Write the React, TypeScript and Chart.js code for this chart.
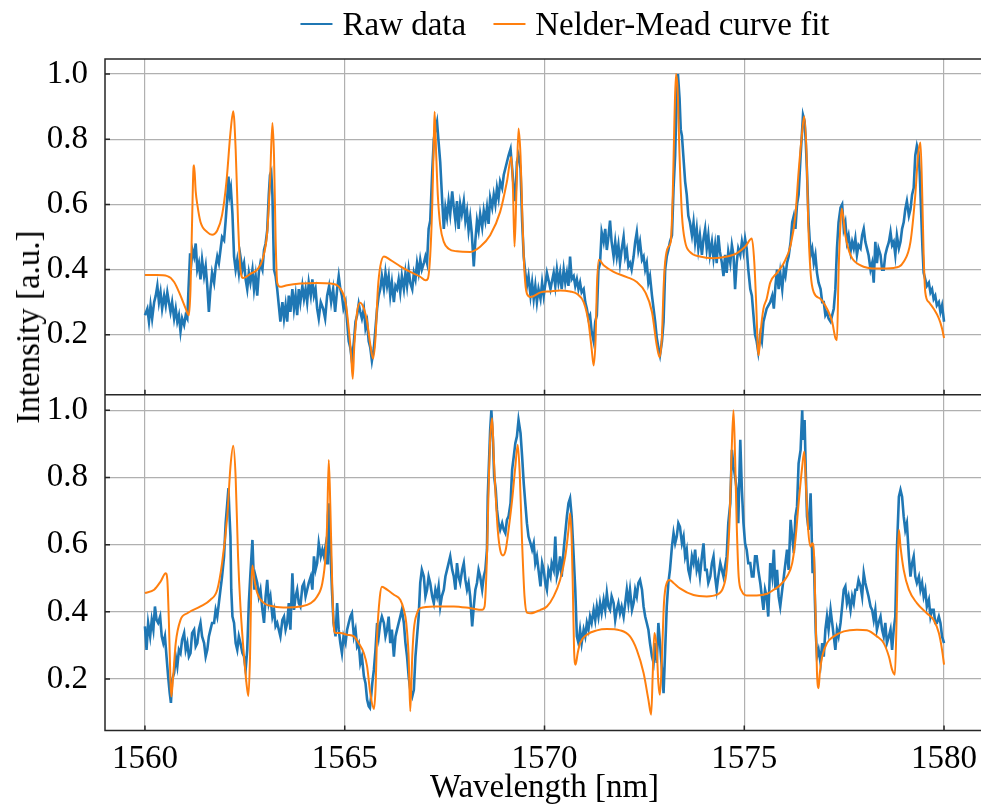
import React, { useEffect, useRef } from "react";
import { Chart, registerables } from "chart.js";

Chart.register(...registerables);

const X_TICKS = [1560, 1565, 1570, 1575, 1580];
const Y_TICKS = [0.2, 0.4, 0.6, 0.8, 1.0];

const TOP_RAW: [number, number][] = [
[1560.00,0.26],[1560.06,0.28],[1560.10,0.24],[1560.14,0.29],[1560.18,0.25],[1560.23,0.30],[1560.27,0.32],[1560.31,0.35],[1560.35,0.30],[1560.39,0.33],[1560.43,0.28],[1560.48,0.32],[1560.52,0.29],[1560.56,0.33],[1560.60,0.30],[1560.64,0.27],[1560.68,0.30],[1560.73,0.25],[1560.77,0.28],[1560.81,0.24],[1560.85,0.26],[1560.89,0.21],[1560.93,0.25],[1560.98,0.23],[1561.02,0.26],[1561.06,0.25],[1561.09,0.34],[1561.13,0.45],[1561.16,0.42],[1561.19,0.46],[1561.23,0.44],[1561.27,0.48],[1561.31,0.40],[1561.35,0.42],[1561.39,0.37],[1561.43,0.43],[1561.48,0.38],[1561.52,0.41],[1561.56,0.35],[1561.60,0.27],[1561.64,0.34],[1561.68,0.39],[1561.73,0.36],[1561.77,0.41],[1561.81,0.44],[1561.85,0.42],[1561.89,0.46],[1561.93,0.50],[1561.98,0.49],[1562.02,0.55],[1562.06,0.62],[1562.09,0.685],[1562.12,0.63],[1562.15,0.65],[1562.19,0.57],[1562.23,0.44],[1562.27,0.40],[1562.31,0.43],[1562.35,0.39],[1562.39,0.44],[1562.44,0.40],[1562.48,0.42],[1562.52,0.37],[1562.56,0.34],[1562.60,0.39],[1562.64,0.36],[1562.69,0.40],[1562.73,0.34],[1562.77,0.38],[1562.81,0.32],[1562.85,0.39],[1562.89,0.42],[1562.94,0.40],[1562.98,0.46],[1563.02,0.48],[1563.06,0.52],[1563.10,0.63],[1563.13,0.69],[1563.16,0.70],[1563.19,0.63],[1563.23,0.40],[1563.27,0.38],[1563.31,0.34],[1563.35,0.29],[1563.39,0.24],[1563.44,0.30],[1563.48,0.25],[1563.52,0.29],[1563.56,0.24],[1563.60,0.32],[1563.64,0.27],[1563.69,0.34],[1563.73,0.28],[1563.77,0.32],[1563.81,0.26],[1563.85,0.34],[1563.89,0.30],[1563.94,0.35],[1563.98,0.31],[1564.02,0.34],[1564.06,0.30],[1564.10,0.36],[1564.15,0.32],[1564.19,0.37],[1564.23,0.32],[1564.27,0.34],[1564.31,0.28],[1564.35,0.25],[1564.40,0.30],
[1564.46,0.28],[1564.51,0.25],[1564.56,0.32],[1564.61,0.35],[1564.66,0.30],[1564.71,0.34],[1564.76,0.27],[1564.81,0.34],[1564.85,0.38],[1564.89,0.34],[1564.93,0.32],[1564.97,0.28],[1565.02,0.30],[1565.06,0.24],[1565.10,0.18],[1565.14,0.16],[1565.18,0.12],[1565.23,0.18],[1565.27,0.24],[1565.31,0.26],[1565.35,0.295],[1565.39,0.27],[1565.43,0.25],[1565.48,0.28],[1565.52,0.22],[1565.56,0.24],[1565.60,0.18],[1565.64,0.16],[1565.68,0.12],[1565.73,0.16],[1565.77,0.22],[1565.81,0.28],[1565.85,0.32],[1565.89,0.34],[1565.93,0.38],[1565.98,0.34],[1566.02,0.39],[1566.06,0.35],[1566.10,0.38],[1566.14,0.32],[1566.18,0.36],[1566.23,0.30],[1566.27,0.35],[1566.31,0.34],[1566.35,0.37],[1566.39,0.33],[1566.43,0.38],[1566.48,0.34],[1566.52,0.39],[1566.56,0.35],[1566.60,0.40],[1566.64,0.36],[1566.69,0.34],[1566.73,0.39],[1566.77,0.37],[1566.81,0.42],[1566.85,0.39],[1566.89,0.43],[1566.93,0.40],[1566.98,0.42],[1567.02,0.44],[1567.06,0.42],[1567.10,0.525],[1567.14,0.55],[1567.19,0.70],[1567.23,0.80],[1567.27,0.83],[1567.31,0.853],[1567.35,0.79],[1567.39,0.73],[1567.44,0.61],[1567.48,0.525],[1567.52,0.59],[1567.56,0.56],[1567.60,0.61],[1567.64,0.57],[1567.69,0.64],[1567.73,0.59],[1567.77,0.55],[1567.81,0.61],[1567.85,0.525],[1567.89,0.60],[1567.93,0.57],[1567.98,0.61],[1568.02,0.55],[1568.06,0.58],[1568.10,0.52],[1568.14,0.56],[1568.18,0.51],[1568.23,0.41],[1568.27,0.49],[1568.31,0.55],[1568.35,0.52],[1568.39,0.57],[1568.44,0.53],[1568.48,0.58],[1568.52,0.55],[1568.56,0.59],[1568.60,0.54],[1568.64,0.62],[1568.69,0.59],[1568.73,0.63],[1568.77,0.60],[1568.81,0.65],[1568.85,0.62],[1568.89,0.67],[1568.94,0.65],[1568.98,0.69],[1569.02,0.71],[1569.06,0.73],[1569.10,0.75],[1569.15,0.77],[1569.19,0.71],[1569.23,0.65],[1569.27,0.61],[1569.31,0.73],[1569.35,0.75],[1569.40,0.71],[1569.44,0.55],[1569.48,0.44],[1569.52,0.39],[1569.56,0.35],[1569.60,0.38],[1569.65,0.32],[1569.69,0.36],[1569.73,0.31],[1569.77,0.35],[1569.81,0.30],[1569.85,0.34],[1569.90,0.31],[1569.94,0.36],[1569.98,0.32],[1570.06,0.39],[1570.15,0.34],
[1570.18,0.36],[1570.23,0.39],[1570.27,0.35],[1570.31,0.40],[1570.35,0.36],[1570.39,0.39],[1570.43,0.34],[1570.48,0.40],[1570.52,0.36],[1570.56,0.39],[1570.60,0.35],[1570.64,0.44],[1570.68,0.37],[1570.73,0.38],[1570.77,0.35],[1570.81,0.37],[1570.85,0.34],[1570.89,0.36],[1570.93,0.33],[1570.98,0.34],[1571.02,0.30],[1571.06,0.28],[1571.10,0.25],[1571.14,0.26],[1571.18,0.21],[1571.23,0.18],[1571.27,0.24],[1571.31,0.26],[1571.35,0.40],[1571.39,0.42],[1571.43,0.515],[1571.48,0.485],[1571.52,0.525],[1571.56,0.46],[1571.60,0.50],[1571.64,0.55],[1571.68,0.485],[1571.73,0.44],[1571.77,0.485],[1571.81,0.44],[1571.85,0.475],[1571.89,0.42],[1571.93,0.46],[1571.98,0.50],[1572.02,0.44],[1572.06,0.46],[1572.10,0.41],[1572.14,0.42],[1572.18,0.40],[1572.23,0.44],[1572.27,0.485],[1572.31,0.515],[1572.35,0.46],[1572.39,0.485],[1572.44,0.43],[1572.48,0.44],[1572.52,0.40],[1572.56,0.42],[1572.60,0.36],[1572.64,0.38],[1572.69,0.32],[1572.73,0.28],[1572.77,0.24],[1572.81,0.19],[1572.85,0.16],[1572.89,0.137],[1572.94,0.18],[1572.98,0.24],[1573.02,0.40],[1573.06,0.44],[1573.10,0.46],[1573.14,0.485],[1573.19,0.505],[1573.23,0.65],[1573.27,0.75],[1573.31,0.94],[1573.34,1.0],[1573.38,0.925],[1573.41,0.83],[1573.44,0.81],[1573.48,0.74],[1573.52,0.67],[1573.56,0.63],[1573.60,0.565],[1573.64,0.545],[1573.69,0.505],[1573.73,0.545],[1573.77,0.485],[1573.81,0.525],[1573.85,0.465],[1573.89,0.505],[1573.94,0.445],[1573.98,0.495],[1574.02,0.525],[1574.06,0.465],[1574.10,0.505],[1574.14,0.445],[1574.19,0.485],[1574.23,0.435],[1574.27,0.475],[1574.31,0.42],[1574.35,0.505],[1574.39,0.455],[1574.44,0.42],[1574.48,0.38],[1574.52,0.445],[1574.56,0.39],[1574.60,0.455],[1574.65,0.42],[1574.69,0.475],[1574.73,0.445],[1574.77,0.34],[1574.81,0.42],[1574.85,0.465],[1574.90,0.445],[1574.94,0.485],[1574.98,0.455],[1575.02,0.495],[1575.06,0.465],[1575.10,0.40],[1575.15,0.34],[1575.19,0.32],[1575.23,0.26],[1575.27,0.20],[1575.31,0.18],[1575.35,0.147],[1575.40,0.20],[1575.44,0.18],[1575.48,0.24],[1575.56,0.28],[1575.65,0.30],
[1575.70,0.32],[1575.74,0.28],[1575.78,0.35],[1575.82,0.40],[1575.86,0.34],[1575.90,0.39],[1575.95,0.34],[1575.99,0.40],[1576.03,0.38],[1576.07,0.42],[1576.11,0.44],[1576.16,0.485],[1576.20,0.545],[1576.24,0.565],[1576.28,0.525],[1576.32,0.60],[1576.36,0.63],[1576.41,0.75],[1576.44,0.81],[1576.47,0.874],[1576.51,0.855],[1576.54,0.79],[1576.57,0.70],[1576.61,0.545],[1576.66,0.445],[1576.70,0.465],[1576.74,0.42],[1576.78,0.445],[1576.82,0.39],[1576.86,0.36],[1576.91,0.34],[1576.95,0.30],[1576.99,0.30],[1577.03,0.26],[1577.07,0.27],[1577.11,0.25],[1577.16,0.24],[1577.20,0.26],[1577.24,0.28],[1577.28,0.34],[1577.32,0.465],[1577.36,0.545],[1577.41,0.59],[1577.45,0.60],[1577.49,0.525],[1577.53,0.545],[1577.57,0.485],[1577.61,0.505],[1577.66,0.455],[1577.70,0.485],[1577.74,0.465],[1577.78,0.495],[1577.82,0.445],[1577.86,0.475],[1577.91,0.465],[1577.95,0.505],[1577.99,0.525],[1578.03,0.485],[1578.07,0.465],[1578.11,0.445],[1578.16,0.40],[1578.20,0.42],[1578.24,0.36],[1578.28,0.485],[1578.32,0.42],[1578.36,0.465],[1578.41,0.445],[1578.45,0.40],[1578.49,0.40],[1578.53,0.445],[1578.57,0.465],[1578.62,0.485],[1578.66,0.515],[1578.70,0.475],[1578.74,0.485],[1578.78,0.445],[1578.82,0.505],[1578.87,0.465],[1578.91,0.485],[1578.95,0.525],[1578.99,0.545],[1579.03,0.585],[1579.07,0.61],[1579.12,0.565],[1579.16,0.585],[1579.20,0.63],[1579.24,0.65],[1579.28,0.75],[1579.32,0.78],[1579.36,0.76],[1579.39,0.70],[1579.42,0.60],[1579.46,0.465],[1579.49,0.39],[1579.53,0.37],[1579.57,0.35],[1579.62,0.36],[1579.66,0.33],[1579.70,0.34],[1579.74,0.31],[1579.78,0.32],[1579.82,0.29],[1579.87,0.30],[1579.91,0.27],[1579.95,0.29],[1580.00,0.24]
];

const TOP_FIT: [number, number][] = [
[1560.00,0.383],[1560.30,0.383],[1560.56,0.380],[1560.73,0.362],[1560.89,0.32],[1561.02,0.28],[1561.10,0.26],[1561.14,0.34],[1561.18,0.55],[1561.21,0.70],[1561.23,0.72],[1561.27,0.64],[1561.31,0.60],[1561.39,0.546],[1561.56,0.515],[1561.68,0.507],[1561.81,0.52],[1561.93,0.567],[1562.04,0.67],[1562.14,0.82],[1562.21,0.886],[1562.27,0.77],[1562.33,0.546],[1562.39,0.40],[1562.46,0.374],[1562.64,0.387],[1562.81,0.40],[1562.94,0.43],[1563.06,0.515],[1563.13,0.67],[1563.19,0.85],[1563.23,0.75],[1563.27,0.495],[1563.31,0.36],[1563.38,0.347],[1563.56,0.352],[1563.89,0.357],[1564.31,0.359],[1564.65,0.357],[1564.89,0.342],[1565.02,0.30],[1565.10,0.22],[1565.16,0.137],[1565.20,0.065],[1565.24,0.167],[1565.31,0.27],[1565.39,0.298],[1565.48,0.28],[1565.56,0.24],[1565.64,0.17],[1565.71,0.127],[1565.77,0.19],[1565.83,0.342],[1565.89,0.41],[1565.98,0.44],[1566.14,0.43],[1566.39,0.41],[1566.64,0.393],[1566.89,0.378],[1567.02,0.367],[1567.08,0.372],[1567.14,0.444],[1567.19,0.597],[1567.23,0.80],[1567.25,0.884],[1567.29,0.75],[1567.33,0.628],[1567.39,0.536],[1567.48,0.485],[1567.60,0.464],[1567.81,0.456],[1568.14,0.454],[1568.39,0.47],[1568.64,0.505],[1568.89,0.577],[1569.06,0.67],[1569.17,0.746],[1569.21,0.65],[1569.25,0.47],[1569.30,0.65],[1569.35,0.833],[1569.40,0.75],[1569.45,0.546],[1569.50,0.39],[1569.56,0.326],[1569.65,0.316],[1569.90,0.33],[1570.14,0.333],[1570.39,0.336],[1570.64,0.333],[1570.81,0.326],[1570.98,0.30],[1571.10,0.24],[1571.18,0.157],[1571.23,0.106],[1571.28,0.19],[1571.31,0.342],[1571.36,0.43],[1571.48,0.413],[1571.73,0.393],[1572.06,0.377],[1572.31,0.362],[1572.52,0.331],[1572.69,0.27],[1572.81,0.167],[1572.88,0.131],[1572.94,0.198],[1572.98,0.342],[1573.02,0.424],[1573.10,0.47],[1573.16,0.485],[1573.21,0.63],[1573.25,0.85],[1573.29,1.0],[1573.33,0.956],[1573.38,0.75],[1573.44,0.567],[1573.52,0.485],[1573.64,0.454],[1573.89,0.44],[1574.23,0.435],[1574.56,0.44],[1574.81,0.45],[1575.02,0.47],[1575.19,0.495],[1575.25,0.424],[1575.30,0.29],[1575.34,0.157],[1575.36,0.137],[1575.41,0.21],[1575.48,0.28],[1575.56,0.31],[1575.65,0.36],[1575.82,0.39],[1575.99,0.42],[1576.16,0.475],[1576.28,0.567],[1576.36,0.70],[1576.45,0.823],[1576.50,0.87],[1576.56,0.75],[1576.60,0.546],[1576.66,0.39],[1576.74,0.33],[1576.91,0.31],[1577.07,0.28],[1577.20,0.24],[1577.28,0.19],[1577.32,0.183],[1577.36,0.39],[1577.41,0.546],[1577.44,0.587],[1577.53,0.505],[1577.66,0.444],[1577.91,0.413],[1578.32,0.403],[1578.74,0.405],[1578.99,0.424],[1579.16,0.485],[1579.28,0.628],[1579.35,0.75],[1579.41,0.79],[1579.45,0.65],[1579.49,0.444],[1579.53,0.331],[1579.62,0.30],[1579.74,0.28],[1579.87,0.25],[1579.95,0.219],[1580.00,0.19]
];

const BOT_RAW: [number, number][] = [
[1560.00,0.357],[1560.04,0.287],[1560.08,0.367],[1560.13,0.327],[1560.17,0.376],[1560.21,0.347],[1560.25,0.416],[1560.29,0.376],[1560.33,0.367],[1560.38,0.386],[1560.42,0.327],[1560.46,0.307],[1560.50,0.327],[1560.54,0.267],[1560.58,0.208],[1560.62,0.158],[1560.65,0.129],[1560.68,0.198],[1560.73,0.218],[1560.77,0.267],[1560.81,0.238],[1560.85,0.287],[1560.89,0.277],[1560.93,0.317],[1560.98,0.337],[1561.02,0.287],[1561.06,0.307],[1561.10,0.267],[1561.14,0.277],[1561.18,0.337],[1561.23,0.347],[1561.27,0.297],[1561.31,0.307],[1561.35,0.347],[1561.39,0.367],[1561.43,0.327],[1561.48,0.307],[1561.52,0.267],[1561.56,0.287],[1561.60,0.327],[1561.64,0.347],[1561.68,0.367],[1561.73,0.367],[1561.77,0.406],[1561.81,0.386],[1561.85,0.426],[1561.89,0.466],[1561.93,0.505],[1561.98,0.565],[1562.02,0.664],[1562.06,0.723],[1562.09,0.768],[1562.11,0.704],[1562.14,0.624],[1562.16,0.466],[1562.19,0.386],[1562.23,0.367],[1562.27,0.307],[1562.31,0.287],[1562.35,0.327],[1562.39,0.307],[1562.44,0.277],[1562.48,0.267],[1562.52,0.228],[1562.56,0.287],[1562.60,0.426],[1562.64,0.515],[1562.69,0.614],[1562.71,0.545],[1562.74,0.466],[1562.77,0.505],[1562.81,0.486],[1562.85,0.446],[1562.89,0.466],[1562.94,0.406],[1562.98,0.367],[1563.02,0.446],[1563.06,0.495],[1563.10,0.426],[1563.14,0.446],[1563.19,0.386],[1563.23,0.406],[1563.27,0.357],[1563.31,0.367],[1563.35,0.347],[1563.39,0.327],[1563.44,0.376],[1563.48,0.386],[1563.52,0.347],[1563.56,0.367],[1563.60,0.426],[1563.64,0.347],[1563.69,0.515],[1563.73,0.406],[1563.77,0.446],[1563.81,0.466],[1563.85,0.426],[1563.89,0.416],[1563.94,0.476],[1563.98,0.486],[1564.02,0.446],[1564.06,0.466],[1564.10,0.486],[1564.15,0.505],[1564.19,0.466],[1564.23,0.565],[1564.27,0.525],[1564.31,0.545],[1564.35,0.604],[1564.40,0.565],[1564.44,0.585],[1564.48,0.565],[1564.52,0.595],[1564.56,0.545],[1564.58,0.684],[1564.60,0.723],[1564.62,0.644],[1564.65,0.565],[1564.68,0.466],[1564.72,0.367],[1564.77,0.327],[1564.81,0.426],[1564.85,0.347],[1564.89,0.307],[1564.93,0.277],[1564.97,0.327],[1565.02,0.307],[1565.06,0.347],[1565.10,0.367],[1565.14,0.386],[1565.18,0.396],[1565.23,0.327],[1565.27,0.347],[1565.31,0.297],[1565.35,0.307],[1565.39,0.248],[1565.43,0.267],[1565.48,0.208],[1565.52,0.188],[1565.56,0.139],[1565.60,0.119],[1565.63,0.114],[1565.66,0.148],[1565.69,0.188],[1565.73,0.228],[1565.77,0.287],[1565.81,0.367],[1565.85,0.327],[1565.89,0.367],[1565.93,0.386],[1565.98,0.367],[1566.02,0.327],[1566.06,0.347],[1566.10,0.386],[1566.14,0.307],[1566.18,0.347],[1566.23,0.267],[1566.27,0.327],[1566.31,0.347],[1566.35,0.367],[1566.39,0.386],[1566.43,0.406],[1566.48,0.367],[1566.52,0.307],[1566.56,0.267],[1566.60,0.208],[1566.64,0.168],[1566.69,0.148],[1566.73,0.168],[1566.77,0.267],[1566.81,0.327],[1566.85,0.386],[1566.89,0.486],[1566.93,0.525],[1566.98,0.505],[1567.02,0.446],[1567.06,0.466],[1567.10,0.505],[1567.14,0.486],[1567.19,0.446],[1567.23,0.426],[1567.27,0.466],[1567.31,0.446],[1567.35,0.476],[1567.39,0.416],[1567.43,0.446],[1567.48,0.466],[1567.52,0.505],[1567.56,0.525],[1567.60,0.545],[1567.64,0.565],[1567.69,0.525],[1567.73,0.505],[1567.77,0.466],[1567.81,0.545],[1567.85,0.505],[1567.89,0.486],[1567.94,0.525],[1567.98,0.545],[1568.02,0.495],[1568.06,0.466],[1568.10,0.486],[1568.14,0.446],[1568.19,0.357],[1568.23,0.416],[1568.27,0.466],[1568.31,0.486],[1568.35,0.525],[1568.39,0.505],[1568.44,0.466],[1568.48,0.505],[1568.52,0.525],[1568.56,0.585],[1568.58,0.743],[1568.61,0.842],[1568.64,0.941],[1568.67,1.0],[1568.71,0.912],[1568.74,0.803],[1568.78,0.763],[1568.81,0.704],[1568.85,0.664],[1568.89,0.644],[1568.94,0.664],[1568.98,0.644],[1569.02,0.634],[1569.06,0.674],[1569.10,0.684],[1569.15,0.723],[1569.19,0.823],[1569.23,0.862],[1569.27,0.902],[1569.31,0.922],[1569.35,0.971],[1569.40,0.932],[1569.44,0.862],[1569.48,0.783],[1569.52,0.723],[1569.56,0.664],[1569.60,0.624],[1569.65,0.604],[1569.69,0.585],[1569.73,0.604],[1569.77,0.545],[1569.81,0.565],[1569.85,0.525],[1569.90,0.476],[1569.94,0.545],[1569.98,0.525],[1570.02,0.486],[1570.06,0.466],[1570.10,0.525],[1570.15,0.505],
[1570.18,0.545],[1570.23,0.525],[1570.27,0.624],[1570.31,0.505],[1570.35,0.525],[1570.39,0.565],[1570.43,0.505],[1570.48,0.585],[1570.52,0.634],[1570.56,0.684],[1570.60,0.723],[1570.64,0.738],[1570.68,0.684],[1570.73,0.565],[1570.77,0.466],[1570.81,0.327],[1570.85,0.307],[1570.89,0.347],[1570.93,0.307],[1570.98,0.347],[1571.02,0.327],[1571.06,0.367],[1571.10,0.347],[1571.14,0.386],[1571.18,0.367],[1571.23,0.406],[1571.27,0.376],[1571.31,0.416],[1571.35,0.386],[1571.39,0.426],[1571.43,0.396],[1571.48,0.436],[1571.52,0.406],[1571.56,0.456],[1571.60,0.416],[1571.64,0.406],[1571.68,0.446],[1571.73,0.426],[1571.77,0.376],[1571.81,0.406],[1571.85,0.426],[1571.89,0.396],[1571.93,0.416],[1571.98,0.386],[1572.02,0.426],[1572.06,0.466],[1572.10,0.426],[1572.14,0.466],[1572.19,0.406],[1572.23,0.426],[1572.27,0.466],[1572.31,0.446],[1572.35,0.486],[1572.39,0.495],[1572.44,0.466],[1572.48,0.416],[1572.52,0.386],[1572.56,0.367],[1572.60,0.347],[1572.64,0.307],[1572.69,0.267],[1572.73,0.248],[1572.77,0.307],[1572.81,0.248],[1572.85,0.367],[1572.89,0.307],[1572.94,0.228],[1572.98,0.158],[1573.02,0.287],[1573.06,0.416],[1573.10,0.486],[1573.14,0.525],[1573.19,0.595],[1573.23,0.634],[1573.27,0.604],[1573.31,0.624],[1573.35,0.664],[1573.39,0.653],[1573.44,0.604],[1573.48,0.624],[1573.52,0.565],[1573.56,0.585],[1573.60,0.525],[1573.64,0.505],[1573.69,0.565],[1573.73,0.545],[1573.77,0.585],[1573.81,0.525],[1573.85,0.545],[1573.89,0.505],[1573.94,0.565],[1573.98,0.604],[1574.02,0.525],[1574.06,0.525],[1574.10,0.486],[1574.15,0.505],[1574.19,0.545],[1574.23,0.565],[1574.27,0.505],[1574.31,0.466],[1574.35,0.505],[1574.40,0.545],[1574.44,0.525],[1574.48,0.505],[1574.52,0.535],[1574.56,0.565],[1574.60,0.664],[1574.65,0.723],[1574.69,0.882],[1574.73,0.832],[1574.77,0.803],[1574.81,0.763],[1574.85,0.664],[1574.90,0.912],[1574.94,0.763],[1574.98,0.664],[1575.02,0.604],[1575.06,0.585],[1575.10,0.545],[1575.15,0.545],[1575.19,0.505],[1575.23,0.505],[1575.27,0.565],[1575.31,0.565],[1575.35,0.525],[1575.40,0.486],[1575.44,0.446],[1575.48,0.406],[1575.52,0.466],[1575.56,0.446],[1575.60,0.386],
[1575.65,0.545],[1575.70,0.505],[1575.74,0.585],[1575.78,0.466],[1575.82,0.525],[1575.86,0.446],[1575.90,0.416],[1575.95,0.466],[1575.99,0.505],[1576.03,0.545],[1576.07,0.585],[1576.11,0.525],[1576.16,0.674],[1576.20,0.624],[1576.24,0.575],[1576.28,0.684],[1576.32,0.713],[1576.36,0.842],[1576.41,0.882],[1576.45,1.0],[1576.47,0.912],[1576.51,0.971],[1576.54,0.813],[1576.57,0.684],[1576.61,0.644],[1576.66,0.753],[1576.68,0.664],[1576.71,0.515],[1576.74,0.565],[1576.77,0.426],[1576.79,0.337],[1576.82,0.267],[1576.86,0.287],[1576.91,0.248],[1576.95,0.307],[1576.99,0.267],[1577.03,0.347],[1577.07,0.386],[1577.11,0.347],[1577.16,0.406],[1577.20,0.367],[1577.24,0.327],[1577.28,0.287],[1577.32,0.347],[1577.36,0.327],[1577.41,0.367],[1577.45,0.416],[1577.49,0.466],[1577.53,0.476],[1577.57,0.426],[1577.61,0.446],[1577.66,0.406],[1577.70,0.446],[1577.74,0.426],[1577.78,0.466],[1577.82,0.466],[1577.86,0.495],[1577.91,0.476],[1577.95,0.446],[1577.99,0.515],[1578.03,0.486],[1578.07,0.466],[1578.11,0.446],[1578.16,0.416],[1578.20,0.406],[1578.24,0.376],[1578.28,0.406],[1578.32,0.347],[1578.36,0.367],[1578.41,0.386],[1578.45,0.347],[1578.49,0.327],[1578.53,0.367],[1578.57,0.307],[1578.62,0.327],[1578.66,0.347],[1578.70,0.287],[1578.74,0.347],[1578.78,0.386],[1578.82,0.585],[1578.87,0.743],[1578.91,0.763],[1578.95,0.743],[1578.99,0.684],[1579.03,0.644],[1579.07,0.664],[1579.12,0.565],[1579.16,0.505],[1579.20,0.545],[1579.24,0.565],[1579.28,0.505],[1579.32,0.486],[1579.37,0.505],[1579.41,0.466],[1579.45,0.486],[1579.49,0.446],[1579.53,0.466],[1579.57,0.416],[1579.62,0.436],[1579.66,0.386],[1579.70,0.406],[1579.74,0.406],[1579.78,0.367],[1579.82,0.367],[1579.87,0.386],[1579.91,0.367],[1579.95,0.327],[1580.00,0.307]
];

const BOT_FIT: [number, number][] = [
[1560.00,0.456],[1560.23,0.466],[1560.39,0.49],[1560.52,0.515],[1560.56,0.495],[1560.60,0.367],[1560.64,0.188],[1560.66,0.148],[1560.70,0.198],[1560.77,0.307],[1560.89,0.376],[1561.06,0.396],[1561.39,0.416],[1561.64,0.436],[1561.81,0.466],[1561.93,0.545],[1562.06,0.684],[1562.14,0.832],[1562.21,0.894],[1562.27,0.80],[1562.33,0.565],[1562.39,0.416],[1562.48,0.267],[1562.56,0.168],[1562.59,0.150],[1562.63,0.267],[1562.66,0.466],[1562.69,0.538],[1562.74,0.495],[1562.81,0.456],[1562.98,0.426],[1563.23,0.416],[1563.56,0.413],[1563.89,0.416],[1564.15,0.426],[1564.31,0.446],[1564.44,0.486],[1564.52,0.565],[1564.56,0.664],[1564.60,0.852],[1564.64,0.713],[1564.68,0.515],[1564.72,0.367],[1564.77,0.337],[1564.89,0.337],[1565.06,0.332],[1565.23,0.327],[1565.35,0.307],[1565.48,0.277],[1565.56,0.238],[1565.64,0.158],[1565.73,0.111],[1565.77,0.168],[1565.81,0.327],[1565.88,0.446],[1565.93,0.475],[1566.06,0.466],[1566.23,0.451],[1566.39,0.436],[1566.48,0.406],[1566.54,0.367],[1566.60,0.267],[1566.64,0.104],[1566.69,0.267],[1566.73,0.347],[1566.81,0.396],[1566.89,0.411],[1567.23,0.416],[1567.73,0.416],[1568.14,0.411],[1568.44,0.406],[1568.50,0.416],[1568.56,0.565],[1568.60,0.763],[1568.64,0.912],[1568.69,0.976],[1568.73,0.862],[1568.77,0.763],[1568.83,0.644],[1568.89,0.585],[1568.96,0.568],[1569.03,0.585],[1569.10,0.644],[1569.19,0.733],[1569.27,0.832],[1569.33,0.897],[1569.38,0.812],[1569.44,0.604],[1569.50,0.446],[1569.56,0.398],[1569.65,0.396],[1569.90,0.406],[1570.06,0.416],[1570.23,0.446],[1570.39,0.495],[1570.52,0.565],[1570.60,0.644],[1570.64,0.694],[1570.68,0.614],[1570.71,0.466],[1570.74,0.287],[1570.78,0.243],[1570.83,0.277],[1570.89,0.307],[1571.06,0.332],[1571.31,0.345],[1571.56,0.349],[1571.89,0.345],[1572.14,0.327],[1572.31,0.287],[1572.48,0.218],[1572.60,0.139],[1572.67,0.094],[1572.71,0.218],[1572.75,0.337],[1572.81,0.287],[1572.85,0.188],[1572.89,0.153],[1572.94,0.267],[1572.99,0.426],[1573.06,0.486],[1573.13,0.495],[1573.23,0.486],[1573.39,0.47],[1573.73,0.45],[1574.06,0.446],[1574.31,0.451],[1574.48,0.475],[1574.56,0.525],[1574.63,0.664],[1574.68,0.862],[1574.73,1.0],[1574.77,0.862],[1574.81,0.664],[1574.86,0.505],[1574.94,0.461],[1575.06,0.449],[1575.31,0.449],[1575.57,0.454],[1575.74,0.466],[1575.90,0.48],[1576.07,0.505],[1576.20,0.545],[1576.28,0.614],[1576.36,0.723],[1576.45,0.832],[1576.50,0.877],[1576.55,0.76],[1576.60,0.644],[1576.66,0.594],[1576.70,0.604],[1576.74,0.584],[1576.78,0.416],[1576.82,0.218],[1576.86,0.173],[1576.89,0.218],[1576.95,0.267],[1577.07,0.307],[1577.24,0.327],[1577.49,0.342],[1577.82,0.347],[1578.07,0.345],[1578.32,0.327],[1578.49,0.307],[1578.62,0.267],[1578.70,0.228],[1578.77,0.213],[1578.81,0.367],[1578.85,0.585],[1578.87,0.644],[1578.91,0.594],[1578.99,0.525],[1579.12,0.466],[1579.32,0.426],[1579.57,0.396],[1579.74,0.376],[1579.87,0.337],[1579.95,0.287],[1580.00,0.243]
];

const LEGEND = [
  { label: "Raw data", color: "#1f77b4" },
  { label: "Nelder-Mead curve fit", color: "#ff7f0e" },
];

const FONT_FAMILY = "'Liberation Serif', 'Times New Roman', serif";
const FONT_SIZE = 33;
const CANVAS_W = 1000;
const CANVAS_H = 809;

export default function App() {
  const ref = useRef<HTMLCanvasElement | null>(null);

  useEffect(() => {
    const canvas = ref.current;
    if (!canvas) return;
    const toXY = (arr: [number, number][]) => arr.map(([x, y]) => ({ x, y }));
    const font = { family: FONT_FAMILY, size: FONT_SIZE, lineHeight: 1 };

    const framePlugin = {
      id: "frame",
      afterDatasetsDraw(chart: any) {
        const { ctx, chartArea: a, scales } = chart;
        const yT = scales.yTop;
        const yB = scales.yBot;
        const xs = scales.x;
        ctx.save();
        ctx.strokeStyle = "#262626";
        ctx.lineWidth = 1.5;
        ctx.beginPath();
        ctx.rect(a.left, a.top, a.right - a.left, a.bottom - a.top);
        ctx.moveTo(a.left, yT.bottom);
        ctx.lineTo(a.right, yT.bottom);
        for (const v of X_TICKS) {
          const px = xs.getPixelForValue(v);
          ctx.moveTo(px, yT.bottom);
          ctx.lineTo(px, yT.bottom - 5);
          ctx.moveTo(px, a.bottom);
          ctx.lineTo(px, a.bottom - 5);
        }
        for (const s of [yT, yB]) {
          for (const v of Y_TICKS) {
            const py = s.getPixelForValue(v);
            ctx.moveTo(a.left, py);
            ctx.lineTo(a.left + 5, py);
          }
        }
        ctx.stroke();
        ctx.restore();
      },
    };

    const yCommon = (min: number, max: number) => ({
      type: "linear" as const,
      position: "left" as const,
      stack: "panels",
      stackWeight: 1,
      offset: false,
      min,
      max,
      afterBuildTicks: (s: any) => {
        s.ticks = Y_TICKS.map((v) => ({ value: v }));
      },
      afterFit: (s: any) => {
        s.width = 105;
      },
      ticks: {
        font,
        color: "#000",
        padding: 17,
        callback: (v: any) => Number(v).toFixed(1),
      },
      grid: { color: "#b0b0b0", lineWidth: 1.2, drawTicks: false },
      border: { display: false },
    });

    const rawStyle = { borderColor: "#1f77b4", backgroundColor: "#1f77b4", borderWidth: 2.6, pointRadius: 0, tension: 0, order: 2 };
    const fitStyle = { borderColor: "#ff7f0e", backgroundColor: "#ff7f0e", borderWidth: 2, pointRadius: 0, cubicInterpolationMode: "monotone", order: 1 };

    const chart = new Chart(canvas, {
      type: "line",
      data: {
        datasets: [
          { label: "Raw data", data: toXY(TOP_RAW), yAxisID: "yTop", ...rawStyle },
          { label: "Nelder-Mead curve fit", data: toXY(TOP_FIT), yAxisID: "yTop", ...fitStyle },
          { label: "Raw data (2)", data: toXY(BOT_RAW), yAxisID: "yBot", ...rawStyle },
          { label: "Nelder-Mead curve fit (2)", data: toXY(BOT_FIT), yAxisID: "yBot", ...fitStyle },
        ],
      },
      options: {
        responsive: false,
        animation: false,
        events: [],
        layout: { padding: { top: 59, right: 16, left: 0, bottom: 0 } },
        plugins: { legend: { display: false }, tooltip: { enabled: false }, title: { display: false } },
        scales: {
          x: {
            type: "linear",
            min: 1559,
            max: 1581,
            afterBuildTicks: (s: any) => {
              s.ticks = X_TICKS.map((v) => ({ value: v }));
            },
            afterFit: (s: any) => {
              s.height = 78.5;
            },
            ticks: { font, color: "#000", padding: 12, maxRotation: 0, autoSkip: false, callback: (v: any) => String(v) },
            grid: { color: "#b0b0b0", lineWidth: 1.2, drawTicks: false },
            border: { display: false },
            title: { display: true, text: "Wavelength [nm]", font, color: "#000", padding: { top: 0, bottom: 4 } },
          },
          yBot: yCommon(0.047, 1.046),
          yTop: yCommon(0.016, 1.046),
        },
      } as any,
      plugins: [framePlugin],
    });
    return () => chart.destroy();
  }, []);

  return (
    <div style={{ position: "fixed", left: 0, top: 0, width: 981, height: 809, overflow: "hidden", background: "#fff" }}>
      <canvas ref={ref} width={CANVAS_W} height={CANVAS_H} style={{ display: "block", width: CANVAS_W, height: CANVAS_H }} />
      <div
        style={{
          position: "absolute",
          left: 565,
          top: 24,
          transform: "translate(-50%, -50%)",
          display: "flex",
          alignItems: "center",
          whiteSpace: "nowrap",
          fontFamily: FONT_FAMILY,
          fontSize: FONT_SIZE,
          lineHeight: "36px",
          color: "#000",
        }}
      >
        {LEGEND.map((item, i) => (
          <div key={item.label} style={{ display: "flex", alignItems: "center", marginLeft: i === 0 ? 0 : 27 }}>
            <span style={{ display: "inline-block", width: 32, height: 2, background: item.color, marginRight: 10 }} />
            <span>{item.label}</span>
          </div>
        ))}
      </div>
      <div
        style={{
          position: "absolute",
          left: 28,
          top: 327,
          transform: "translate(-50%, -50%) rotate(-90deg)",
          whiteSpace: "nowrap",
          fontFamily: FONT_FAMILY,
          fontSize: FONT_SIZE,
          lineHeight: "36px",
          color: "#000",
        }}
      >
        Intensity [a.u.]
      </div>
    </div>
  );
}
